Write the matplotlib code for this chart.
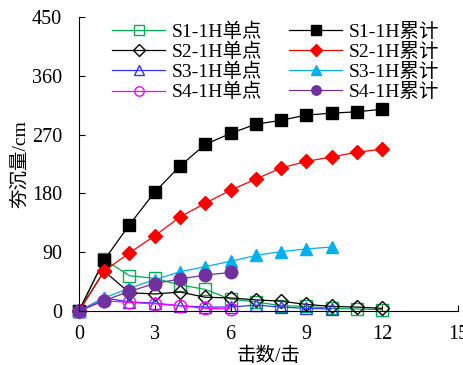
import matplotlib
matplotlib.use("Agg")
import matplotlib.pyplot as plt
from matplotlib.ticker import MultipleLocator

plt.rcParams['font.family'] = ['Liberation Serif', 'Noto Sans CJK SC']
plt.rcParams['mathtext.fontset'] = 'stix'

blows_s1 = list(range(0, 13))
blows_s2 = list(range(0, 13))
blows_s3 = list(range(0, 11))
blows_s4 = list(range(0, 7))

s1_single = [0, 79, 54, 50, 40, 33, 18, 14, 8, 7, 4, 3, 2]
s1_cum = [0, 78, 132, 182, 222, 255, 272, 286, 292, 300, 303, 305, 309]
s2_single = [0, 61, 28, 26, 29, 21, 20, 17, 15, 10, 7, 6, 4]
s2_cum = [0, 61, 89, 115, 144, 165, 185, 202, 219, 229, 236, 243, 248]
s3_single = [0, 20, 14, 12, 8, 6, 6, 9, 6, 4, 3]
s3_cum = [0, 20, 35, 48, 60, 68, 76, 85, 91, 95, 98]
s4_single = [0, 16, 13, 11, 8, 4, 3]
s4_cum = [0, 16, 30, 42, 49, 55, 59]

labels = ['S1-1H单点', 'S1-1H累计', 'S2-1H单点', 'S2-1H累计',
          'S3-1H单点', 'S3-1H累计', 'S4-1H单点', 'S4-1H累计']

fig = plt.figure(figsize=(4.64, 3.65), dpi=100)
ax = fig.add_axes([0.170, 0.148, 0.817, 0.805])

ms = 9
lw = 0.9
series = [
    (blows_s1, s1_single, dict(color='#00B050', marker='s', mfc='none', mec='#00B050')),
    (blows_s1, s1_cum, dict(color='black', marker='s', mfc='black', mec='black')),
    (blows_s2, s2_single, dict(color='black', marker='D', mfc='none', mec='black', ms=7.5)),
    (blows_s2, s2_cum, dict(color='#FF0000', marker='D', mfc='#FF0000', mec='#FF0000', ms=7.5)),
    (blows_s3, s3_single, dict(color='#3333FF', marker='^', mfc='none', mec='#3333FF')),
    (blows_s3, s3_cum, dict(color='#00B0F0', marker='^', mfc='#00B0F0', mec='#00B0F0')),
    (blows_s4, s4_single, dict(color='#FF00FF', marker='o', mfc='none', mec='#FF00FF')),
    (blows_s4, s4_cum, dict(color='#7030A0', marker='o', mfc='#7030A0', mec='#7030A0')),
]
handles = []
for (x, y, st), lab in zip(series, labels):
    kw = dict(ms=ms, lw=lw, mew=1.0)
    kw.update(st)
    h, = ax.plot(x, y, label=lab, clip_on=False, **kw)
    handles.append(h)

ax.set_xlim(0, 15)
ax.set_ylim(0, 450)
ax.xaxis.set_major_locator(MultipleLocator(3))
ax.yaxis.set_major_locator(MultipleLocator(90))
ax.spines['top'].set_visible(False)
ax.spines['right'].set_visible(False)
ax.tick_params(direction='in', labelsize=14.5, length=4, width=0.8)
ax.tick_params(axis='y', pad=12)
ax.tick_params(axis='x', pad=10)
ax.set_xlabel('击数/击', fontsize=14, labelpad=2)
ax.set_ylabel('夯沉量/cm', fontsize=14, labelpad=2)

order = [0, 2, 4, 6, 1, 3, 5, 7]
leg = ax.legend([handles[i] for i in order], [labels[i] for i in order],
                ncol=2, loc='upper left', bbox_to_anchor=(0.047, 1.035),
                frameon=False, fontsize=14, markerscale=0.75,
                handlelength=2.7, handletextpad=0.35, columnspacing=1.4,
                labelspacing=0.1, borderpad=0.3)

fig.savefig('out.png', dpi=100)
